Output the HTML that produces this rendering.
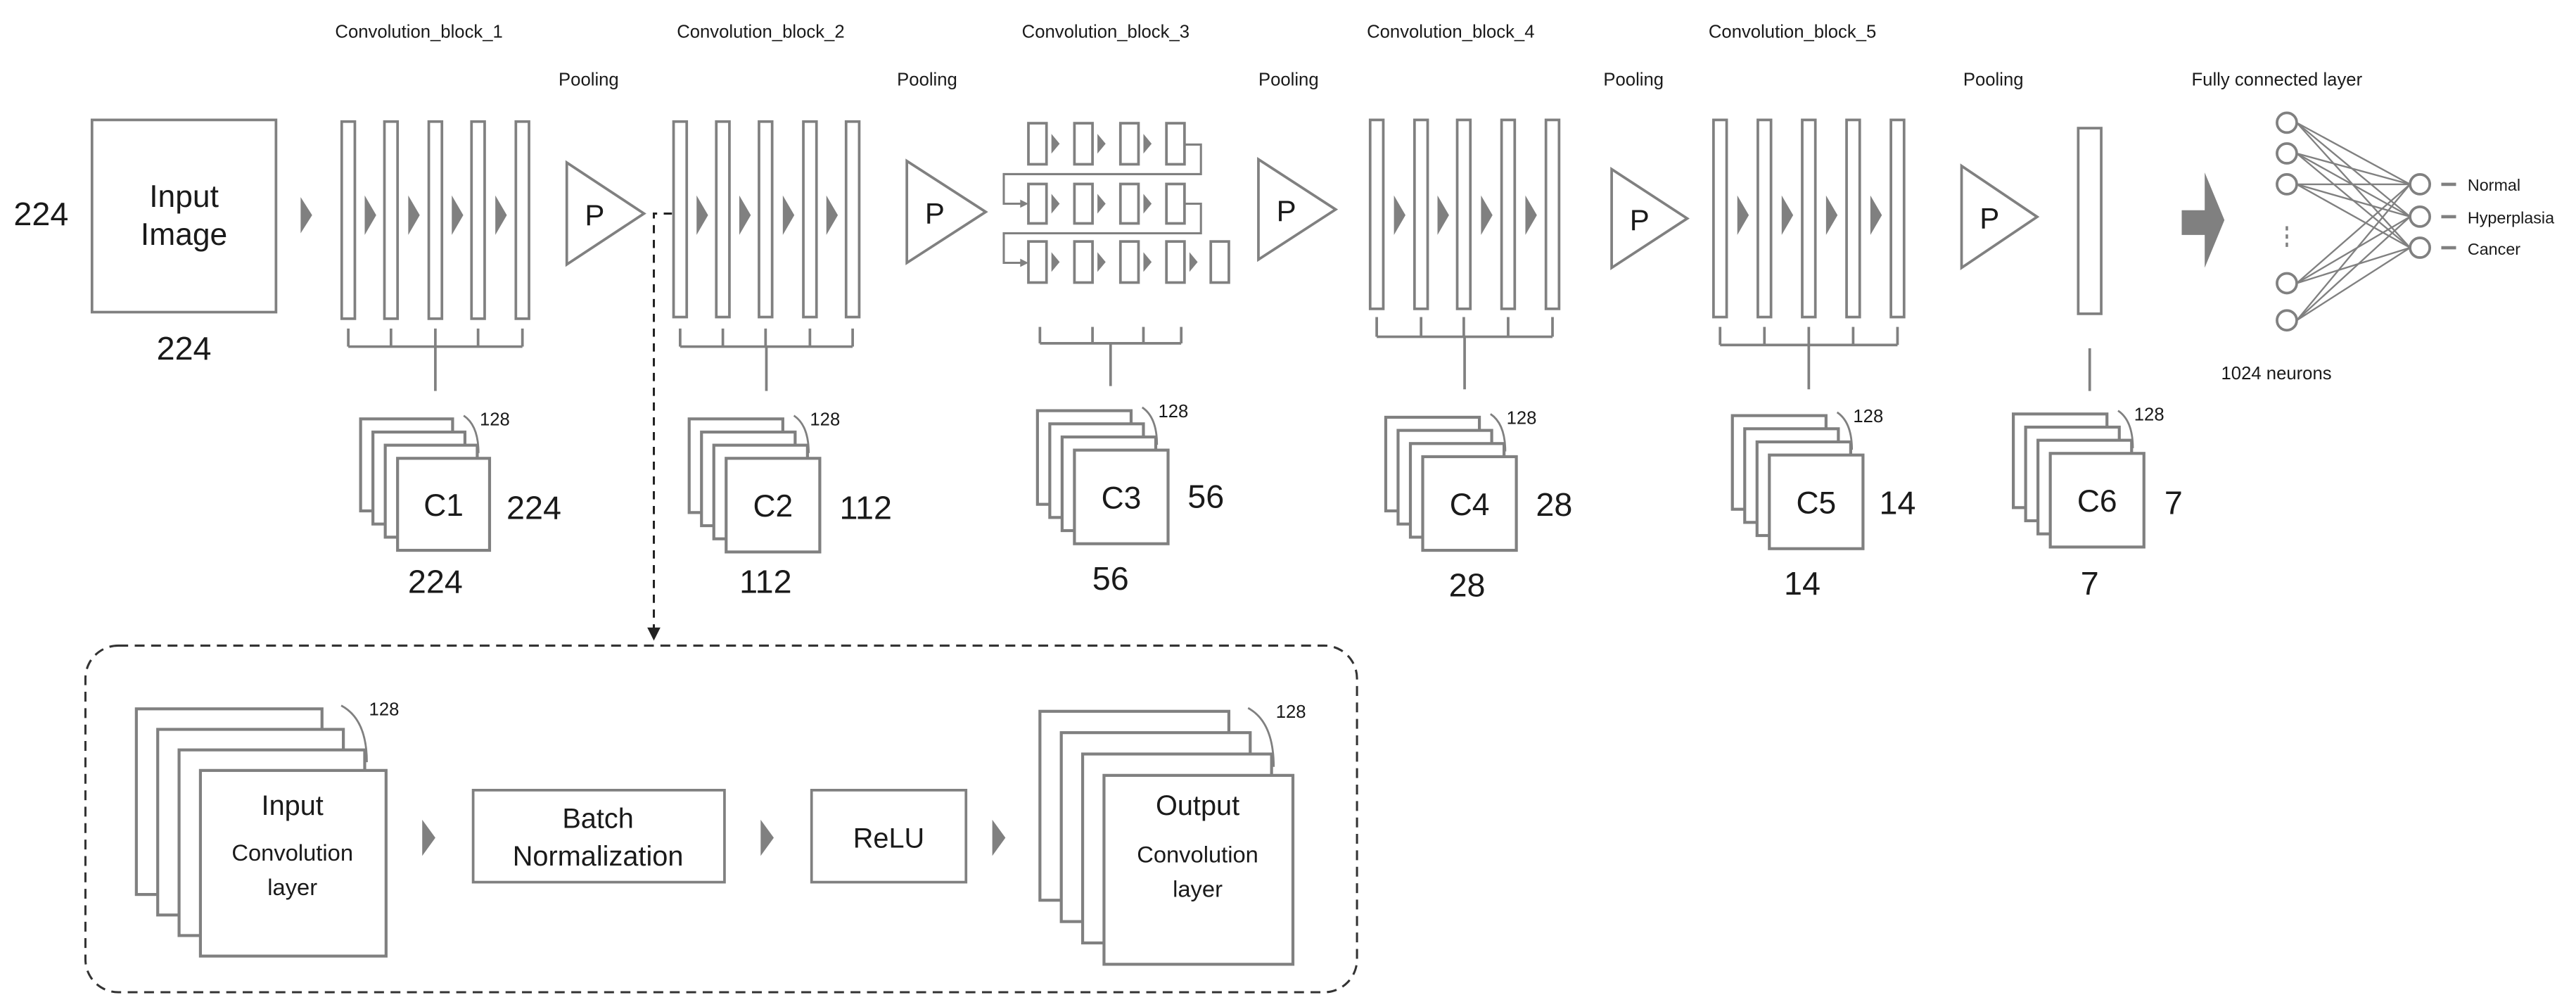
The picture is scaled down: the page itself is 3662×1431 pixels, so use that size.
<!DOCTYPE html>
<html><head><meta charset="utf-8"><style>
html,body{margin:0;padding:0;background:#fff}
svg{display:block}
text{font-family:"Liberation Sans",sans-serif;fill:#1a1a1a}
</style></head><body>
<svg id="s" width="3662" height="1431" viewBox="0 0 1568 613" preserveAspectRatio="none" xmlns="http://www.w3.org/2000/svg">
<defs>
<marker id="ah" markerWidth="8" markerHeight="8" refX="4" refY="4" orient="auto" markerUnits="userSpaceOnUse"><path d="M0,0 L8,4 L0,8 z" fill="#222"/></marker>
</defs>
<g id="g" fill="none" stroke="#808080" stroke-width="1.6"></g>

<g font-size="11">
<text x="204" y="23">Convolution_block_1</text>
<text x="412" y="23">Convolution_block_2</text>
<text x="622" y="23">Convolution_block_3</text>
<text x="832" y="23">Convolution_block_4</text>
<text x="1040" y="23">Convolution_block_5</text>
<text x="340" y="52">Pooling</text>
<text x="546" y="52">Pooling</text>
<text x="766" y="52">Pooling</text>
<text x="976" y="52">Pooling</text>
<text x="1195" y="52">Pooling</text>
<text x="1334" y="52">Fully connected layer</text>
<text x="1352" y="231">1024 neurons</text>
<text x="1502" y="116" font-size="10">Normal</text>
<text x="1502" y="136" font-size="10">Hyperplasia</text>
<text x="1502" y="155" font-size="10">Cancer</text>
</g>
<g font-size="20" text-anchor="middle">
<text x="25" y="137">224</text>
<text x="112" y="219">224</text>
<text x="112" y="126" font-size="19">Input</text>
<text x="112" y="149" font-size="19">Image</text>
<text x="265" y="361">224</text><text x="325" y="316">224</text>
<text x="466" y="361">112</text><text x="527" y="316">112</text>
<text x="676" y="359">56</text><text x="734" y="309">56</text>
<text x="893" y="363">28</text><text x="946" y="314">28</text>
<text x="1097" y="362">14</text><text x="1155" y="313">14</text>
<text x="1272" y="362">7</text><text x="1323" y="313">7</text>
</g>
<g id="t2"></g>
</svg>
<script>
const NS="http://www.w3.org/2000/svg";
const g=document.getElementById('g'), S=document.getElementById('s');
function el(tag,a,parent){const e=document.createElementNS(NS,tag);for(const k in a)e.setAttribute(k,a[k]);(parent||g).appendChild(e);return e;}
function rect(x,y,w,h,extra){return el('rect',Object.assign({x,y,width:w,height:h,fill:'#fff'},extra||{}));}
function line(x1,y1,x2,y2,extra){return el('line',Object.assign({x1,y1,x2,y2},extra||{}));}
function tri(x,cy,w,h){el('path',{d:`M${x},${cy-h/2} L${x+w},${cy} L${x},${cy+h/2} z`,fill:'#808080',stroke:'none'});}
rect(56,73,112,117,{stroke:'#808080'});
tri(183,131,7,22);
function block(xs,y1,y2,br){
  xs.forEach(x=>rect(x,y1,8,y2-y1));
  for(let i=0;i<4;i++){tri((xs[i]+8+xs[i+1])/2-3,131,7,24);}
  const L=xs[0]+4,R=xs[4]+4;
  xs.forEach(x=>line(x+4,br[0],x+4,br[1]));
  line(L,br[1],R,br[1]);
  const c=(L+R)/2; line(c,br[1],c,br[2]);
}
block([208,234,261,287,314],74,194,[200,211,238]);
block([410,436,462,489,515],74,193,[200,211,238]);
block([834,861,887,914,941],73,188,[193,205,237]);
block([1043,1070,1097,1124,1151],73,193,[199,210,237]);
function pool(x,y1,y2,w){el('path',{d:`M${x},${y1} L${x+w},${(y1+y2)/2} L${x},${y2} z`,fill:'#fff'});
 el('text',{x:x+17,y:(y1+y2)/2+7,'font-size':18,'text-anchor':'middle'},document.getElementById('t2')).textContent='P';}
const cols=[626,654,682,710,737];
const rows=[[75,100,4],[112,136,4],[147,172,5]];
el('path',{d:'M721,88 H731 V106 H611 V124 H623','stroke-width':1.3});
el('path',{d:'M721,124 H731 V142 H611 V160 H623','stroke-width':1.3});
rows.forEach(r=>{for(let i=0;i<r[2];i++){rect(cols[i],r[0],11,r[1]-r[0]);if(i<r[2]-1)tri(cols[i]+14,(r[0]+r[1])/2,5,12);}});
tri(621,124,5,5);tri(621,160,5,5);
line(633,199,633,209);line(665,199,665,209);line(696,199,696,209);line(719,199,719,209);
line(633,209,719,209);line(676,209,676,235);
rect(1265,78,14,113);line(1272,212,1272,238);
el('path',{d:'M1328,128 H1342 V105 L1354,134 L1342,163 V143 H1328 z',fill:'#808080',stroke:'none'});
const L=[74.7,93.4,112.2,172.4,195],R=[112.2,131.9,150.8];
L.forEach(a=>R.forEach(b=>line(1398,a,1467,b,{'stroke-width':1})));
L.forEach(a=>el('circle',{cx:1392,cy:a,r:6,fill:'#fff'}));
R.forEach(b=>{el('circle',{cx:1473,cy:b,r:6,fill:'#fff'});line(1486,b,1495,b,{'stroke-width':2});});
[139,144,149].forEach(y=>line(1392,y-1.3,1392,y+1.3,{'stroke-width':1.5}));
function stack(fx,fy,sz,dx,dy,lab,fs){
  for(let i=3;i>=0;i--) rect(fx-i*dx,fy-i*dy,sz,sz,{'stroke-width':1.8});
  const bx=fx-3*dx+sz, by=fy-3*dy;
  el('path',{d:`M${bx+dx*0.9},${by-2} Q${bx+dx*2.1},${by+dy*0.5} ${bx+dx*2.1},${by+dy*2.6}`,'stroke-width':1.2});
  el('text',{x:bx+dx*2.2,y:by+4,'font-size':fs||11},document.getElementById('t2')).textContent='128';
  if(lab){el('text',{x:fx+sz/2,y:fy+sz/2+7,'font-size':19,'text-anchor':'middle'},document.getElementById('t2')).textContent=lab;}
}
stack(242,279,56,7.5,8,'C1');
stack(442,279,57,7.5,8,'C2');
stack(654,274,57,7.5,8,'C3');
stack(866,278,57,7.5,8,'C4');
stack(1077,277,57,7.5,8,'C5');
stack(1248,276,57,7.5,8,'C6');
pool(345,99,161,47);pool(552,98,160,48);pool(766,97,158,47);pool(981,103,163,46);pool(1194,101,163,46);
el('path',{d:'M409,130 H398 V386',stroke:'#222','stroke-width':1.3,'stroke-dasharray':'5,4','marker-end':'url(#ah)'});
rect(52,393,774,211,{rx:20,ry:20,stroke:'#333','stroke-width':1.3,'stroke-dasharray':'6,4',fill:'none'});
stack(122,469,113,13,12.5,null,11);
stack(672,472,115,13,13,null,11);
rect(288,481,153,56,{stroke:'#808080','stroke-width':1.6});
rect(494,481,94,56,{stroke:'#808080','stroke-width':1.6});
tri(257,510,8,22);tri(463,510,8,22);tri(604,510,8,22);
</script>
<svg style="position:absolute;left:0;top:0" width="3662" height="1431" viewBox="0 0 1568 613" preserveAspectRatio="none">
<g font-family="Liberation Sans, sans-serif" fill="#1a1a1a" text-anchor="middle">
<text x="178" y="496" font-size="17">Input</text>
<text x="178" y="524" font-size="14">Convolution</text>
<text x="178" y="545" font-size="14">layer</text>
<text x="729" y="496" font-size="17">Output</text>
<text x="729" y="525" font-size="14">Convolution</text>
<text x="729" y="546" font-size="14">layer</text>
<text x="364" y="504" font-size="17">Batch</text>
<text x="364" y="527" font-size="17">Normalization</text>
<text x="541" y="516" font-size="17">ReLU</text>
</g>
</svg>
</body></html>
